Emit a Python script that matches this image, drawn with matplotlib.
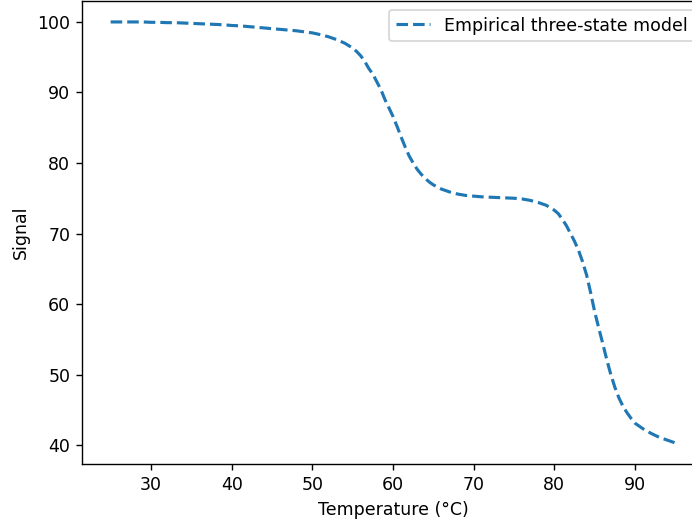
import matplotlib
matplotlib.use('Agg')
import matplotlib.pyplot as plt

# Temperature readings (°C) and the model signal
# (half-degree steps through the two transitions)
temperature = [
    25, 26, 27, 28, 29, 30, 31, 32, 33, 34, 35, 36, 37, 38, 39,
    40, 41, 42, 43, 44, 45, 46, 47, 48, 49, 50, 51, 52, 53, 54,
    55, 55.5, 56, 56.5, 57, 57.5, 58, 58.5, 59, 59.5,
    60, 60.5, 61, 61.5, 62, 62.5, 63, 63.5, 64, 64.5,
    65, 66, 67, 68, 69, 70, 71, 72, 73, 74, 75, 76, 77, 78, 79,
    80, 80.5, 81, 81.5, 82, 82.5, 83, 83.5, 84, 84.5,
    85, 85.5, 86, 86.5, 87, 87.5, 88, 88.5, 89, 89.5,
    90, 91, 92, 93, 94, 95,
]
signal = [
    100.0, 100.0, 100.0, 100.0, 100.0, 99.95, 99.95, 99.9, 99.9, 99.85, 99.8, 99.75, 99.7, 99.65, 99.6,
    99.5, 99.45, 99.35, 99.25, 99.15, 99.05, 98.95, 98.85, 98.75, 98.6, 98.45, 98.2, 97.9, 97.5, 97.0,
    96.3, 95.8, 95.2, 94.4, 93.4, 92.6, 91.5, 90.4, 89.0, 87.8,
    86.6, 85.2, 83.7, 82.3, 81.0, 80.0, 79.1, 78.4, 77.8, 77.3,
    76.9, 76.3, 75.9, 75.6, 75.4, 75.3, 75.2, 75.15, 75.1, 75.05, 75.0, 74.9, 74.7, 74.4, 74.0,
    73.3, 72.8, 72.0, 71.1, 70.0, 68.9, 67.6, 66.0, 64.1, 61.6,
    58.9, 56.6, 54.4, 52.1, 50.0, 48.2, 46.7, 45.5, 44.6, 43.8,
    43.1, 42.3, 41.65, 41.1, 40.7, 40.3,
]

dpi = 125
fig = plt.figure(figsize=(692 / dpi, 524 / dpi), dpi=dpi)
# the reference is cropped on the right, so the axes runs past the figure edge
ax = fig.add_axes([82.4 / 692, 60 / 524, 621.2 / 692, 463.1 / 524])

ax.plot(temperature, signal, linestyle='--', color='#1f77b4', linewidth=1.8,
        label='Empirical three-state model')
ax.set_xlabel('Temperature (°C)')
ax.set_ylabel('Signal')
ax.set_xticks([30, 40, 50, 60, 70, 80, 90])
ax.set_yticks([40, 50, 60, 70, 80, 90, 100])
ax.legend(loc='upper right')

fig.savefig('out.png', dpi=dpi)
